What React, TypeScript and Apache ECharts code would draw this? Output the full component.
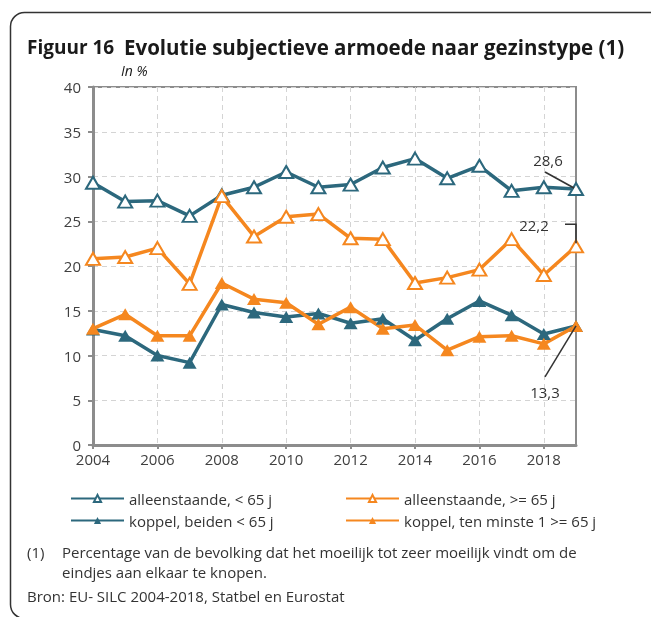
import React, { useEffect, useRef } from "react";
import * as echarts from "echarts";

const years = ["2004", "2005", "2006", "2007", "2008", "2009", "2010", "2011", "2012", "2013", "2014", "2015", "2016", "2017", "2018", "2019"];
const alleenOnder65 = [29.3, 27.2, 27.3, 25.6, 27.9, 28.8, 30.5, 28.8, 29.1, 31.0, 32.0, 29.8, 31.2, 28.4, 28.8, 28.6];
const alleenBoven65 = [20.8, 21.0, 22.0, 18.0, 27.8, 23.3, 25.5, 25.8, 23.1, 23.0, 18.1, 18.7, 19.6, 23.0, 19.0, 22.2];
const koppelOnder65 = [12.9, 12.2, 10.0, 9.2, 15.7, 14.8, 14.3, 14.7, 13.6, 14.1, 11.7, 14.1, 16.1, 14.5, 12.4, 13.3];
const koppelBoven65 = [13.0, 14.6, 12.2, 12.2, 18.1, 16.3, 15.9, 13.5, 15.4, 13.0, 13.4, 10.6, 12.1, 12.2, 11.3, 13.3];
const seriesNames = ["alleenstaande, < 65 j", "alleenstaande, >= 65 j", "koppel, beiden < 65 j", "koppel, ten minste 1 >= 65 j"];

const TEAL = "#2c687d";
const ORANGE = "#f5871f";
const TXT = "#333333";
const FONT = "'Open Sans', 'Noto Sans', sans-serif";
const FS = 15;

const fmt = (v: number) => v.toFixed(1).replace(".", ",");

export default function App() {
  const ref = useRef<HTMLDivElement>(null);
  useEffect(() => {
    if (!ref.current) return;
    const chart = echarts.init(ref.current, null, { renderer: "svg" });
    const mk = (name: string, data: number[], color: string, hollow: boolean) => ({
      type: "line",
      name,
      data,
      symbol: "triangle",
      symbolSize: [14, 12],
      lineStyle: { color, width: 3.5 },
      itemStyle: hollow
        ? { color: "#ffffff", borderColor: color, borderWidth: 2 }
        : { color, borderColor: color, borderWidth: 0 },
      emphasis: { disabled: true },
    });
    const legendText = { fontSize: FS, color: TXT, fontFamily: FONT };
    chart.setOption({
      animation: false,
      textStyle: { fontFamily: FONT },
      grid: { left: 93, right: 75, top: 87, bottom: 172, show: true, borderColor: "#8c8c8c", borderWidth: 2 },
      xAxis: {
        type: "category",
        data: years,
        boundaryGap: false,
        axisLine: { lineStyle: { color: "#8c8c8c", width: 3 } },
        axisTick: { show: true, interval: 1, length: 4, lineStyle: { color: "#8c8c8c", width: 2 } },
        axisLabel: { interval: 1, color: "#404040", fontSize: FS, fontFamily: FONT, margin: 6 },
        splitLine: { show: true, interval: 1, lineStyle: { color: "#d4d4d4", type: [5, 4], width: 1 } },
      },
      yAxis: {
        type: "value",
        min: 0,
        max: 40,
        interval: 5,
        axisLine: { show: true, lineStyle: { color: "#8c8c8c", width: 3 } },
        axisTick: { show: true, length: 5, lineStyle: { color: "#8c8c8c", width: 2 } },
        axisLabel: { color: "#404040", fontSize: FS, fontFamily: FONT, margin: 12 },
        splitLine: { show: true, lineStyle: { color: "#d4d4d4", type: [5, 4], width: 1 } },
      },
      legend: [
        {
          data: [seriesNames[0], seriesNames[2]],
          orient: "vertical",
          left: 65,
          top: 486,
          itemWidth: 53,
          itemHeight: 9,
          itemGap: 7,
          textStyle: legendText,
          selectedMode: false,
        },
        {
          data: [seriesNames[1], seriesNames[3]],
          orient: "vertical",
          left: 340,
          top: 486,
          itemWidth: 53,
          itemHeight: 9,
          itemGap: 7,
          textStyle: legendText,
          selectedMode: false,
        },
      ],
      series: [
        mk(seriesNames[0], alleenOnder65, TEAL, true),
        mk(seriesNames[1], alleenBoven65, ORANGE, true),
        mk(seriesNames[2], koppelOnder65, TEAL, false),
        mk(seriesNames[3], koppelBoven65, ORANGE, false),
      ],
    });

    const last = years.length - 1;
    const p1 = chart.convertToPixel({ gridIndex: 0 }, [last, alleenOnder65[last]]) as number[];
    const p2 = chart.convertToPixel({ gridIndex: 0 }, [last, alleenBoven65[last]]) as number[];
    const p4 = chart.convertToPixel({ gridIndex: 0 }, [last, koppelBoven65[last]]) as number[];
    const annFont = { fontSize: FS, fontFamily: FONT, fill: TXT };
    const lineStyle = { stroke: "#333333", lineWidth: 1.5 };

    chart.setOption({
      graphic: [
        {
          type: "rect",
          silent: true,
          shape: { x: 10.5, y: 12.5, width: 700, height: 606, r: 14 },
          style: { fill: "none", stroke: "#333333", lineWidth: 1.5 },
        },
        {
          type: "text",
          x: 27,
          y: 47,
          style: { text: "Figuur 16", fontSize: 19, fontWeight: "bold", fontFamily: FONT, fill: "#1a1a1a", verticalAlign: "middle" },
        },
        {
          type: "text",
          x: 124,
          y: 47,
          style: {
            text: "Evolutie subjectieve armoede naar gezinstype (1)",
            fontSize: 20.5,
            fontWeight: "bold",
            fontFamily: FONT,
            fill: "#1a1a1a",
            verticalAlign: "middle",
          },
        },
        {
          type: "text",
          x: 121,
          y: 70,
          style: { text: "In %", fontSize: 14, fontStyle: "italic", fontFamily: FONT, fill: "#1a1a1a", verticalAlign: "middle" },
        },
        {
          type: "text",
          x: 27,
          y: 552,
          style: { text: "(1)", ...annFont, verticalAlign: "middle" },
        },
        {
          type: "text",
          x: 62,
          y: 552,
          style: {
            text: "Percentage van de bevolking dat het moeilijk tot zeer moeilijk vindt om de",
            ...annFont,
            verticalAlign: "middle",
          },
        },
        {
          type: "text",
          x: 62,
          y: 572,
          style: { text: "eindjes aan elkaar te knopen.", ...annFont, verticalAlign: "middle" },
        },
        {
          type: "text",
          x: 27,
          y: 596,
          style: { text: "Bron: EU- SILC 2004-2018, Statbel en Eurostat", ...annFont, verticalAlign: "middle" },
        },
        {
          type: "text",
          z: 100,
          x: p1[0] - 28,
          y: p1[1] - 29,
          style: { text: fmt(alleenOnder65[last]), ...annFont, align: "center", verticalAlign: "middle" },
        },
        {
          type: "line",
          z: 100,
          shape: { x1: p1[0] - 31, y1: p1[1] - 17, x2: p1[0] - 2, y2: p1[1] - 1 },
          style: lineStyle,
        },
        {
          type: "text",
          z: 100,
          x: p2[0] - 42,
          y: p2[1] - 21,
          style: { text: fmt(alleenBoven65[last]), ...annFont, align: "center", verticalAlign: "middle" },
        },
        {
          type: "polyline",
          z: 100,
          shape: { points: [[p2[0] - 11, p2[1] - 22], [p2[0], p2[1] - 22], [p2[0], p2[1] - 3]] },
          style: { ...lineStyle, fill: null },
        },
        {
          type: "text",
          z: 100,
          x: p4[0] - 31,
          y: p4[1] + 66,
          style: { text: fmt(koppelBoven65[last]), ...annFont, align: "center", verticalAlign: "middle" },
        },
        {
          type: "line",
          z: 100,
          shape: { x1: p4[0] - 31, y1: p4[1] + 51, x2: p4[0], y2: p4[1] },
          style: lineStyle,
        },
      ],
    });
    return () => chart.dispose();
  }, []);
  return <div ref={ref} style={{ position: "fixed", left: 0, top: 0, width: 651, height: 617 }} />;
}
